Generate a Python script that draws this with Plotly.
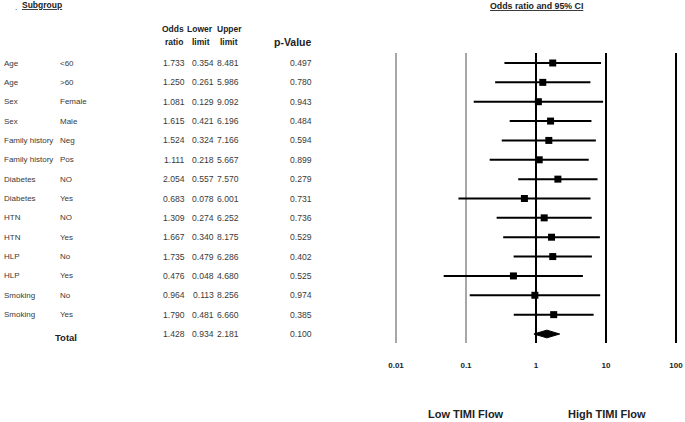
import plotly.graph_objects as go

groups = ["Age", "Age", "Sex", "Sex", "Family history", "Family history", "Diabetes", "Diabetes",
          "HTN", "HTN", "HLP", "HLP", "Smoking", "Smoking"]
subgroups = ["<60", ">60", "Female", "Male", "Neg", "Pos", "NO", "Yes", "NO", "Yes", "No", "Yes", "No", "Yes"]
odds = [1.733, 1.250, 1.081, 1.615, 1.524, 1.111, 2.054, 0.683, 1.309, 1.667, 1.735, 0.476, 0.964, 1.790]
lower = [0.354, 0.261, 0.129, 0.421, 0.324, 0.218, 0.557, 0.078, 0.274, 0.340, 0.479, 0.048, 0.113, 0.481]
upper = [8.481, 5.986, 9.092, 6.196, 7.166, 5.667, 7.570, 6.001, 6.252, 8.175, 6.286, 4.680, 8.256, 6.660]
pvals = [0.497, 0.780, 0.943, 0.484, 0.594, 0.899, 0.279, 0.731, 0.736, 0.529, 0.402, 0.525, 0.974, 0.385]

total_or, total_lo, total_hi, total_p = 1.428, 0.934, 2.181, 0.100

ref_lines = [0.01, 0.1, 1, 10, 100]
tick_text = ["0.01", "0.1", "1", "10", "100"]

W, H = 685, 422
FONT = "Liberation Sans, Arial, sans-serif"
TXT = "#222"

rows = list(range(len(odds)))
total_row = len(odds)

fig = go.Figure()

# reference lines
for v in ref_lines:
    thick = v >= 1
    fig.add_trace(go.Scatter(
        x=[v, v], y=[-0.52, total_row + 0.47], mode="lines",
        line=dict(color="black" if thick else "#777", width=2 if thick else 1.3),
        hoverinfo="skip", showlegend=False, cliponaxis=False))

# confidence intervals
for r, lo, hi in zip(rows, lower, upper):
    fig.add_trace(go.Scatter(x=[lo, hi], y=[r, r], mode="lines",
                             line=dict(color="black", width=2),
                             hoverinfo="skip", showlegend=False))

fig.add_trace(go.Scatter(x=odds, y=rows, mode="markers",
                         marker=dict(symbol="square", size=7, color="black"),
                         showlegend=False))

# total diamond
fig.add_trace(go.Scatter(
    x=[total_lo, total_or, total_hi, total_or, total_lo],
    y=[total_row, total_row - 0.2, total_row, total_row + 0.2, total_row],
    mode="lines", fill="toself", fillcolor="black",
    line=dict(color="black", width=1), showlegend=False))

ann = []


def txt(x, y, s, anchor="left", size=8, bold=False, yref="y", under=False, color=TXT):
    f = dict(family=FONT, size=size, color=color)
    if bold:
        f["weight"] = "bold"
    if under:
        f["lineposition"] = "under"
    ann.append(dict(x=x / W, y=y, xref="paper", yref=yref, text=s, showarrow=False,
                    xanchor=anchor, yanchor="middle", font=f, borderpad=0, borderwidth=0))


NUM = 8.6
LBL = "#3a3a3a"
for r in rows:
    txt(4, r, groups[r], color=LBL)
    txt(60, r, subgroups[r], color=LBL)
    txt(174, r, f"{odds[r]:.3f}", "center", NUM, color=LBL)
    txt(203, r, f"{lower[r]:.3f}", "center", NUM, color=LBL)
    txt(228, r, f"{upper[r]:.3f}", "center", NUM, color=LBL)
    txt(312, r, f"{pvals[r]:.3f}", "right", NUM, color=LBL)

txt(55, total_row + 0.2, "Total", size=9.5, bold=True)
txt(174, total_row, f"{total_or:.3f}", "center", NUM, color=LBL)
txt(203, total_row, f"{total_lo:.3f}", "center", NUM, color=LBL)
txt(228, total_row, f"{total_hi:.3f}", "center", NUM, color=LBL)
txt(312, total_row, f"{total_p:.3f}", "right", NUM, color=LBL)


def py(p):
    return 1 - p / H


HD = 8.5
txt(15, py(8), ".", yref="paper")
txt(22, py(5), "Subgroup", size=HD, bold=True, yref="paper", under=True)
txt(173, py(29), "Odds", "center", HD, True, "paper")
txt(174, py(42), "ratio", "center", HD, True, "paper")
txt(200, py(29), "Lower", "center", HD, True, "paper")
txt(201, py(42), "limit", "center", HD, True, "paper")
txt(229, py(29), "Upper", "center", HD, True, "paper")
txt(229, py(42), "limit", "center", HD, True, "paper")
txt(312, py(42), "p-Value", "right", 10.5, True, "paper")
txt(536, py(6), "Odds ratio and 95% CI", "center", 8.8, True, "paper", True)
txt(466, py(414), "Low TIMI Flow", "center", 11, True, "paper")
txt(607, py(414), "High TIMI Flow", "center", 11, True, "paper")

# x: 0.01 at 396px, 100 at 676px (70px per decade), padded so edge lines aren't clipped
pad = 0.03
row_px = 19.357
top_px, bot_px = 53, 343
fig.update_layout(
    width=W, height=H,
    margin=dict(l=0, r=0, t=0, b=0),
    paper_bgcolor="white", plot_bgcolor="white",
    showlegend=False,
    annotations=ann,
    xaxis=dict(type="log", range=[-2 - pad, 2 + pad],
               domain=[(396 - 70 * pad) / W, (676 + 70 * pad) / W], automargin=False,
               showgrid=False, zeroline=False, showline=False, ticks="",
               tickvals=ref_lines, ticktext=tick_text, ticklabelstandoff=16,
               tickfont=dict(family=FONT, size=8, color=TXT, weight="bold")),
    yaxis=dict(range=[(bot_px - 63) / row_px, (top_px - 63) / row_px],
               domain=[1 - bot_px / H, 1 - top_px / H], automargin=False,
               showgrid=False, zeroline=False, showline=False,
               showticklabels=False, ticks=""),
)

fig.write_html("out.html", config={"displayModeBar": False},
               post_script="document.body.style.margin='0';document.body.style.overflow='hidden';")
